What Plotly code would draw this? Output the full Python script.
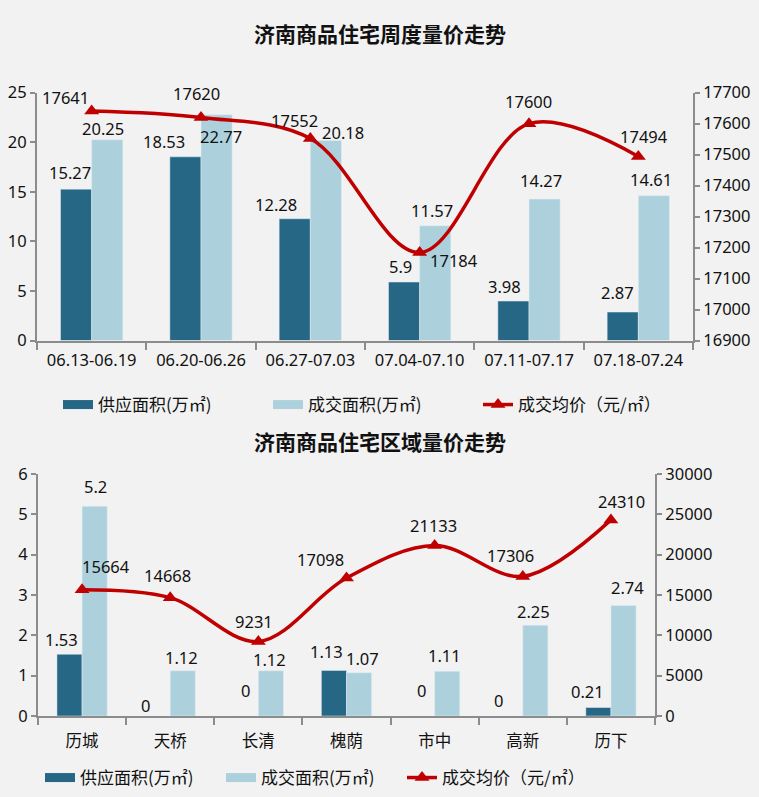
import plotly.graph_objects as go

# ---------- data ----------
weeks = ["06.13-06.19", "06.20-06.26", "06.27-07.03", "07.04-07.10", "07.11-07.17", "07.18-07.24"]
week_supply = [15.27, 18.53, 12.28, 5.9, 3.98, 2.87]
week_deal = [20.25, 22.77, 20.18, 11.57, 14.27, 14.61]
week_price = [17641, 17620, 17552, 17184, 17600, 17494]

districts = ["历城", "天桥", "长清", "槐荫", "市中", "高新", "历下"]
dist_supply = [1.53, 0, 0, 1.13, 0, 0, 0.21]
dist_deal = [5.2, 1.12, 1.12, 1.07, 1.11, 2.25, 2.74]
dist_price = [15664, 14668, 9231, 17098, 21133, 17306, 24310]

title_top = "济南商品住宅周度量价走势"
title_bottom = "济南商品住宅区域量价走势"
name_supply = "供应面积(万㎡)"
name_deal = "成交面积(万㎡)"
name_price = "成交均价（元/㎡）"

# ---------- styles ----------
W, H = 759, 797
FONT = "Noto Sans, Noto Sans CJK SC, sans-serif"
FS = 16.5
C_DARK = "#256784"
C_LIGHT = "#acd1dc"
C_RED = "#c00000"
C_AXIS = "#8c8c8c"
BG = "#f2f2f2"

# label offsets (pixels) relative to the data point: (xshift, yshift)
top_sup_off = [(-22, 3), (-37, 2), (-34, 1), (-19, 2), (-25, 1), (-21, 6)]
top_deal_off = [(11, -2), (20, -35), (33, -6), (12, 2), (12, 5), (13, 3)]
top_price_off = [(-26, 0), (-5, 10), (-16, 5), (34, -8), (-1, 9), (6, 7)]
top_price_anchor = ["bottom", "bottom", "bottom", "middle", "bottom", "bottom"]

bot_sup_off = [(-21, 1), (-25, -3), (-13, 12), (-20, 5), (-13, 12), (-24, 2), (-23, 3)]
bot_deal_off = [(13, 6), (11, 0), (11, -2), (16, 1), (10, 2), (11, 0), (17, 4)]
bot_price_off = [(24, 10), (-3, 9), (-4, 7), (-26, 5), (-1, 7), (-12, 7), (11, 5)]


def px_x(p):
    return p / W


def px_y(p):
    return 1 - p / H


fig = go.Figure()

# top chart
fig.add_trace(go.Bar(x=weeks, y=week_supply, name=name_supply, marker_color=C_DARK,
                     xaxis="x", yaxis="y", showlegend=False))
fig.add_trace(go.Bar(x=weeks, y=week_deal, name=name_deal, marker_color=C_LIGHT,
                     xaxis="x", yaxis="y", showlegend=False))
fig.add_trace(go.Scatter(x=weeks, y=week_price, name=name_price, mode="lines+markers",
                         line=dict(color=C_RED, width=3.5, shape="spline", smoothing=1),
                         marker=dict(symbol="triangle-up", size=13, color=C_RED),
                         cliponaxis=False, xaxis="x", yaxis="y2", legend="legend",
                         legendrank=3))
fig.add_trace(go.Scatter(x=[None], y=[None], mode="lines", name=name_supply,
                         line=dict(color=C_DARK, width=9), xaxis="x", yaxis="y",
                         legend="legend", legendrank=1))
fig.add_trace(go.Scatter(x=[None], y=[None], mode="lines", name=name_deal,
                         line=dict(color=C_LIGHT, width=9), xaxis="x", yaxis="y",
                         legend="legend", legendrank=2))

# bottom chart
fig.add_trace(go.Bar(x=districts, y=dist_supply, name=name_supply, marker_color=C_DARK,
                     xaxis="x2", yaxis="y3", showlegend=False))
fig.add_trace(go.Bar(x=districts, y=dist_deal, name=name_deal, marker_color=C_LIGHT,
                     xaxis="x2", yaxis="y3", showlegend=False))
fig.add_trace(go.Scatter(x=districts, y=dist_price, name=name_price, mode="lines+markers",
                         line=dict(color=C_RED, width=3.5, shape="spline", smoothing=1),
                         marker=dict(symbol="triangle-up", size=13, color=C_RED),
                         cliponaxis=False, xaxis="x2", yaxis="y4", legend="legend2",
                         legendrank=3))
fig.add_trace(go.Scatter(x=[None], y=[None], mode="lines", name=name_supply,
                         line=dict(color=C_DARK, width=9), xaxis="x2", yaxis="y3",
                         legend="legend2", legendrank=1))
fig.add_trace(go.Scatter(x=[None], y=[None], mode="lines", name=name_deal,
                         line=dict(color=C_LIGHT, width=9), xaxis="x2", yaxis="y3",
                         legend="legend2", legendrank=2))

# ---------- value labels (anchored on data via axes) ----------
annotations = []


def add_labels(xs, vals, offs, xref, yref, anchors=None):
    for i, (xv, v) in enumerate(zip(xs, vals)):
        dx, dy = offs[i]
        annotations.append(dict(
            x=xv, y=v, xref=xref, yref=yref, text=str(v), showarrow=False,
            xanchor="center", yanchor=(anchors[i] if anchors else "bottom"),
            xshift=dx, yshift=dy, font=dict(size=FS, color="#111", family=FONT)))


add_labels(weeks, week_supply, top_sup_off, "x", "y")
add_labels(weeks, week_deal, top_deal_off, "x", "y")
add_labels(weeks, week_price, top_price_off, "x", "y2", top_price_anchor)
add_labels(districts, dist_supply, bot_sup_off, "x2", "y3")
add_labels(districts, dist_deal, bot_deal_off, "x2", "y3")
add_labels(districts, dist_price, bot_price_off, "x2", "y4")

annotations.append(dict(text="<b>" + title_top + "</b>", x=0.5, y=px_y(33), xref="paper",
                        yref="paper", showarrow=False, xanchor="center", yanchor="middle",
                        font=dict(size=21, color="#111", family="Noto Sans CJK SC")))
annotations.append(dict(text="<b>" + title_bottom + "</b>", x=0.5, y=px_y(441), xref="paper",
                        yref="paper", showarrow=False, xanchor="center", yanchor="middle",
                        font=dict(size=21, color="#111", family="Noto Sans CJK SC")))

tickfont = dict(size=FS, color="#111", family=FONT)
ax_common = dict(showline=True, linecolor=C_AXIS, linewidth=2, showgrid=False,
                 zeroline=False, ticks="outside", tickcolor=C_AXIS, tickwidth=2,
                 tickfont=tickfont)

top_dom = [px_y(340.5), px_y(92.7)]
bot_dom = [px_y(716), px_y(474)]

fig.update_layout(
    width=W, height=H,
    margin=dict(l=0, r=0, t=0, b=0, autoexpand=False),
    paper_bgcolor=BG, plot_bgcolor=BG,
    font=dict(family=FONT, color="#111"),
    barmode="group", bargap=0.43, bargroupgap=0,
    xaxis=dict(domain=[px_x(37), px_x(693)], anchor="y", tickson="boundaries",
               ticklen=7, ticklabelstandoff=4, **ax_common),
    yaxis=dict(domain=top_dom, anchor="x", range=[0, 25], dtick=5, ticklen=5, **ax_common),
    yaxis2=dict(overlaying="y", side="right", anchor="x", range=[16900, 17700], dtick=100,
                tickformat="d", ticklen=5, **ax_common),
    xaxis2=dict(domain=[px_x(38), px_x(655)], anchor="y3", tickson="boundaries",
                ticklen=7, ticklabelstandoff=9, **ax_common),
    yaxis3=dict(domain=bot_dom, anchor="x2", range=[0, 6], dtick=1, ticklen=5, **ax_common),
    yaxis4=dict(overlaying="y3", side="right", anchor="x2", range=[0, 30000], dtick=5000,
                tickformat="d", ticklen=5, **ax_common),
    legend=dict(orientation="h", x=px_x(58), xanchor="left", y=px_y(405), yanchor="middle",
                bgcolor="rgba(0,0,0,0)",
                font=dict(size=17, color="#111", family="Noto Sans CJK SC"),
                entrywidth=165, entrywidthmode="pixels", traceorder="normal"),
    legend2=dict(orientation="h", x=px_x(40), xanchor="left", y=px_y(778), yanchor="middle",
                 bgcolor="rgba(0,0,0,0)",
                 font=dict(size=17, color="#111", family="Noto Sans CJK SC"),
                 entrywidth=136, entrywidthmode="pixels", traceorder="normal"),
    annotations=annotations,
)

fig.write_html("out.html", config={"displayModeBar": False},
               post_script="document.body.style.margin='0px';"
                           "document.body.style.background='#f2f2f2';")
